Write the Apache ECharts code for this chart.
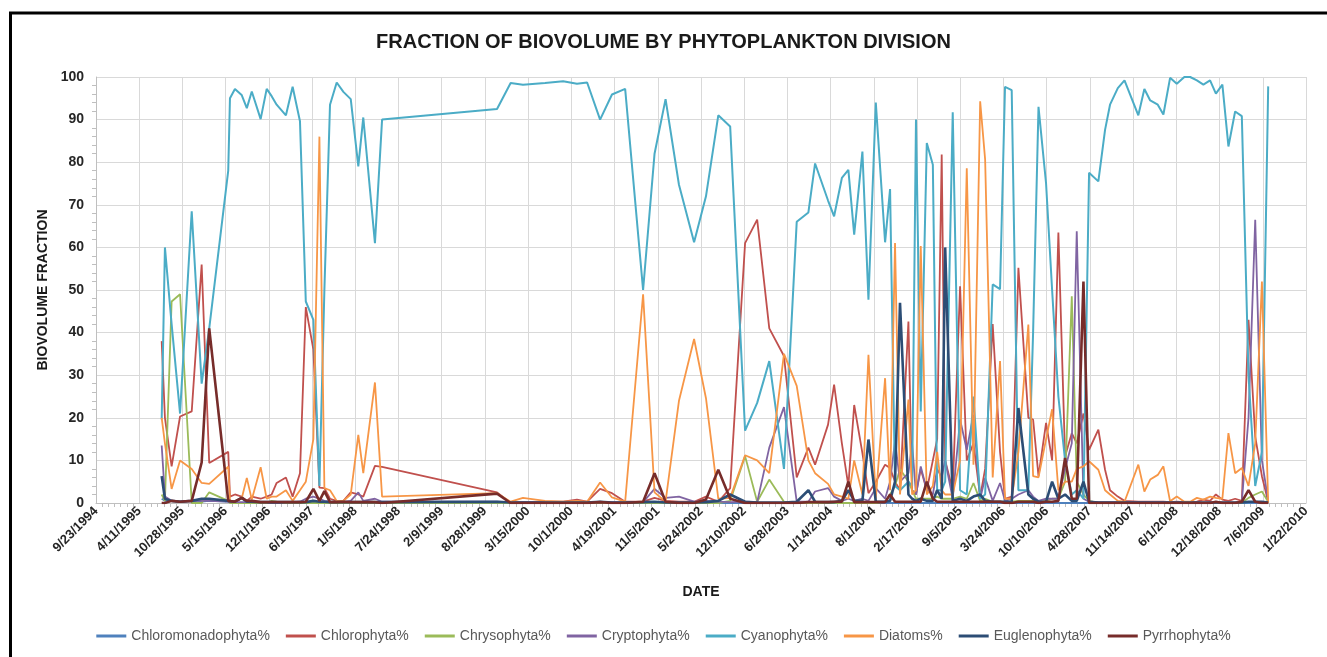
<!DOCTYPE html>
<html>
<head>
<meta charset="utf-8">
<script src="https://cdn.jsdelivr.net/npm/echarts@6/dist/echarts.min.js"></script>
<style>
html,body{margin:0;padding:0;background:#fff;}
#chart{width:1327px;height:657px;}
</style>
</head>
<body>
<div id="chart"></div>
<script>
// Sample dates as Excel date serial numbers (days since 1899-12-30)
const sampleDates = [34904,34919,34950,34989,35043,35089,35124,35212,35220,35243,
 35274,35298,35321,35362,35390,35413,35436,35479,35510,35544,
 35571,35606,35634,35657,35683,35714,35745,35779,35814,35837,
 35891,35924,36456,36519,36576,36678,36762,36826,36873,36933,
 36988,37049,37132,37185,37236,37298,37368,37423,37480,37535,
 37604,37660,37716,37784,37843,37897,37928,37988,38016,38052,
 38082,38109,38147,38175,38209,38252,38275,38298,38321,38360,
 38377,38395,38417,38445,38473,38493,38514,38530,38565,38599,
 38630,38661,38692,38715,38750,38784,38807,38838,38869,38915,
 38937,38962,38997,39025,39054,39085,39116,39139,39170,39196,
 39239,39270,39293,39329,39360,39424,39452,39479,39514,39540,
 39571,39602,39637,39664,39695,39725,39756,39783,39813,39841,
 39872,39903,39934,39965,39996,40025];

const chloromonadophyta = [1,0.5,0.5,0.3,0.5,0.3,0.5,0.3,0,0,
 0,0,0,0,0,0,0,0,0,0,
 0,0,0,0,0,0,0,0,0,0,
 0,0,0.2,0,0,0,0,0,0,0,
 0,0,0,0,0,0,0,0,0,0,
 0,0,0,0,0,0,0,0,0,0,
 0,0,0,0,0,0,0,0,0,0,
 0,0,0,0,0,0,0,0,0,0,
 0,0,0,0,0,0,0,0,0,0,
 0,0,0,0,0,0,0,0,0,0,
 0,0,0,0,0,0,0,0,0,0,
 0,0,0,0,0,0,0,0,0,0,
 0,0,0,0,0,0];

const chlorophyta = [38,20,8.6,20.3,21.5,56,9.4,12,1.5,2,
 1.5,0.5,1.5,1,1.5,2,4.7,6,1.5,7,
 46,36,3.6,3.5,1,0.5,0.5,2.5,2,1.5,
 8.7,8.5,2.5,0,0.2,0.3,0.3,0.8,0.3,3.3,
 2.3,0.3,0.3,1.2,0.5,0.3,0.3,1.5,0.3,3.5,
 61,66.5,41,34.5,6,13,9,18.4,27.8,14,
 4,23,11.7,2.3,5,9,8.2,5,3,42.6,
 3,2,8,3,10,15,81.8,10,3,50.9,
 10,14,1.5,8,42,12,1,1.5,55.2,20,
 19.6,6.3,18.8,10,63.5,11,16.4,14,21,12.5,
 17.2,7.8,3,1.5,0.5,0.3,0.3,0.3,0.3,0.3,
 0.2,0.3,0.2,0.2,0.3,0.8,0.5,2,0.8,0.5,
 1,0.5,43,15.6,6.3,0.3];

const chrysophyta = [2,0.5,47.3,49,0,0,2.5,0.5,0,0,
 0,0,0,0,0,0.5,0.3,0,0,0,
 0,0,0,0,0,0,0,0,0,0,
 0,0,0,0,0,0,0,0,0,0,
 0,0,0,0,0,0,0,0,0,0.5,
 11,0.3,5.5,0.3,0,0,0,0,0,0,
 0,0,0,0,0,0.3,2,4,8,5,
 3,1,1,1,1,1.5,1,1,1,1.5,
 1,4.7,0.5,1,0.3,0.3,0.3,0.3,0.5,0.5,
 0.5,0.3,0.5,1,1,5,48.5,5,2,0.5,
 0,0,0,0,0,0,0,0,0,0,
 0,0,0,0,0,0,0,0,0,0,
 0,0,1.2,2,2.7,0.3];

const cryptophyta = [13.5,1.5,0.5,0.3,0.5,0.5,0.5,0.3,0.2,0.2,
 0.2,0.2,0.2,0.2,0.2,0.2,0.2,0.2,0.2,0.3,
 1,1.5,1,0.5,0.3,0.2,0.2,0.5,2.5,0.5,
 1,0.3,0.3,0.2,0.2,0.2,0.2,0.2,0.2,0.2,
 0.2,0.2,0.2,3.3,1.2,1.5,0.3,0.5,0.3,0.2,
 0.3,0.2,13,22.5,0.3,0.3,2.7,3.5,1.5,0.5,
 1,0.5,1,0.5,3.5,1,5,14.5,5,7,
 14,2,8.6,3,2,8,6,10,1,19.6,
 12.5,20.7,1,5.9,0.5,4.7,0.5,1,2,3,
 1.5,0.5,1,1,1,8,14,63.8,1,0.3,
 0.2,0.2,0.2,0.2,0.2,0.2,0.2,0.2,0.2,0.2,
 0.1,0.1,0.1,0.1,0.1,0.1,0.1,0.1,0.1,0.1,
 0.1,0.3,20,66.5,10,0.5];

const cyanophyta = [19.6,60,42,21,68.5,28,41,78,95,97.2,
 95.8,92.7,96.6,90.1,97.2,95.5,93.5,91,97.7,89.6,
 47.3,43,4,50,93.5,98.7,96.5,94.8,79,90.5,
 61,90,92.5,98.6,98.2,98.6,99,98.4,98.7,90,
 95.9,97.2,50,82,94.8,74.7,61.2,72,91,88.4,
 17,23.5,33.3,8,66,68.2,79.7,71,67.3,76.3,
 78.2,63,82.5,47.7,94,61.2,73.7,4,3,5,
 4,90,21.5,84.5,79.4,3,3,5,91.7,3,
 2,25,1,2,51.3,50.2,97.7,96.9,3,3,
 40,93,75,50,25,10,2,3,1,77.5,
 75.5,87.6,93.5,97.4,99.2,91,97.2,94.5,93.5,91.2,
 99.8,98.4,100,100,99.2,98.2,99.2,96.1,98.2,83.7,
 91.9,90.8,30,4,12,97.8];

const diatoms = [20,14,3.3,10,8,4.7,4.5,8.5,0.5,0.5,
 1,5.9,0.8,8.4,1,1.5,1.5,3,0.5,3,
 5,15,86,3.5,3,0.5,0.5,2,16,7,
 28.3,1.5,2.3,0.3,1.2,0.5,0.3,0.5,0.3,4.8,
 1.3,0.3,49,2.5,0.3,24,38.5,24.6,1,1.2,
 11.2,10,7,35,27.5,10,7,4.5,2,1.5,
 1,10,2,34.8,1,29.3,3,61,2,24.3,
 2,3,60.3,2,4,12,3,2,2,10,
 78.6,9,94.3,80.6,6,33.3,1,1,12,41.9,
 6.3,6,15,22,3,5,5,8,8.6,9.8,
 7.8,3,2,0.5,0.3,9,2.7,5.5,6.6,8.6,
 0.4,1.5,0.3,0.3,1.2,0.8,1.5,1.2,1,16.4,
 7,8.2,4,14,52,0];

const euglenophyta = [6.3,1,0.5,0.3,0.5,1,1,0.5,0.3,0.3,
 1.2,0.3,0.3,0.2,0.2,0.2,0.2,0.2,0.2,0.2,
 0.2,0.5,0.3,0.3,0.2,0.2,0.2,0.2,0.2,0.2,
 0.2,0.2,0.3,0.1,0.1,0.1,0.1,0.1,0.1,0.3,
 0.1,0.1,0.2,0.3,0.1,0.1,0.1,0.2,0.5,2,
 0.3,0.1,0.1,0.1,0.3,3,0.3,0.2,0.2,0.5,
 3,0.5,0.5,14.9,0.3,0.3,0.5,5,47,2,
 1,0.5,1,0.5,0.5,3,1,60,0.5,1,
 0.5,1.5,2,0.5,0.3,0.3,0.3,0.3,22.3,2,
 1,0.3,0.3,5,1,2,0.5,0.5,5,0.3,
 0.1,0.1,0.1,0.1,0.1,0.1,0.1,0.1,0.1,0.1,
 0.1,0.1,0.1,0.1,0.1,0.1,0.1,0.1,0.1,0.1,
 0.1,0.1,0.3,0.3,0.3,0.1];

const pyrrhophyta = [0,0,0.5,0.3,0.5,9.5,41,0.5,0.2,0.3,
 1.2,0.5,0.5,0.2,0.2,0.2,0.2,0.2,0.2,0.2,
 0.3,3.3,0.5,2.8,0.2,0.2,0.3,0.2,0.2,0.2,
 0.2,0,2.2,0,0,0,0,0,0,0.2,
 0,0,0.3,7,0.3,0,0,0.8,7.8,1,
 0,0,0,0,0,0.2,0.2,0.2,0.3,0.3,
 5,0.2,0.2,0.2,0.2,0.2,2,0.3,0.3,0.3,
 0.3,0.3,0.3,5,1,0.3,0.3,0.3,0.3,0.3,
 0.3,0.3,0.3,0.3,0.3,0.3,0,0,0.3,0.3,
 0.3,0,0.3,0.3,0.5,10.6,1,1,52,0,
 0,0,0,0,0,0,0,0,0,0,
 0,0,0,0,0,0,0,0.3,0,0,
 0,0.3,3,0.3,0,0];

const seriesNames = ['Chloromonadophyta%','Chlorophyta%','Chrysophyta%','Cryptophyta%','Cyanophyta%','Diatoms%','Euglenophyta%','Pyrrhophyta%'];
const seriesValues = [chloromonadophyta, chlorophyta, chrysophyta, cryptophyta, cyanophyta, diatoms, euglenophyta, pyrrhophyta];
const seriesColors = ['#4F81BD','#C0504D','#9BBB59','#8064A2','#4BACC6','#F79646','#2C4D75','#772C2A'];
const seriesWidths = [1.8,1.8,1.8,1.8,2,1.8,2.6,2.6];

// x axis: first tick 9/23/1994 (serial 34600), step 200 days, last 1/22/2010 (40200)
const xMin = 34600, xMax = 40200, xStep = 200;

function serialToLabel(v){
  const d = new Date(Date.UTC(1899,11,30) + Math.round(v)*86400000);
  return (d.getUTCMonth()+1) + '/' + d.getUTCDate() + '/' + d.getUTCFullYear();
}

const FONT = "'Liberation Sans', Arial, sans-serif";
const chart = echarts.init(document.getElementById('chart'), null, {renderer:'canvas'});

chart.setOption({
  animation: false,
  backgroundColor: '#ffffff',
  textStyle: {fontFamily: FONT},
  title: {
    text: 'FRACTION OF BIOVOLUME BY PHYTOPLANKTON DIVISION',
    left: 'center', top: 32, padding: 0,
    textStyle: {fontFamily: FONT, fontSize: 20, fontWeight: 'bold', color: '#1a1a1a'}
  },
  graphic: [
    {type:'line', shape:{x1:9, y1:13, x2:1327, y2:13}, style:{stroke:'#000', lineWidth:3}},
    {type:'line', shape:{x1:10.5, y1:12, x2:10.5, y2:660}, style:{stroke:'#000', lineWidth:3}}
  ],
  legend: {
    data: seriesNames,
    left: 'center', top: 624,
    icon: 'rect',
    itemWidth: 30, itemHeight: 3, itemGap: 16,
    textStyle: {fontFamily: FONT, fontSize: 14, color: '#595959'}
  },
  grid: {left: 96, right: 21, top: 77, bottom: 154, containLabel: false},
  xAxis: {
    type: 'value', min: xMin, max: xMax, interval: xStep,
    name: 'DATE', nameLocation: 'middle', nameGap: 82,
    nameTextStyle: {fontFamily: FONT, fontSize: 14, fontWeight: 'bold', color: '#1a1a1a'},
    axisLine: {show: true, lineStyle: {color: '#bfbfbf', width: 1}},
    axisTick: {show: false},
    minorTick: {show: true, splitNumber: 7, length: 4, lineStyle: {color: '#bfbfbf'}},
    splitLine: {show: true, lineStyle: {color: '#d9d9d9', width: 1}},
    axisLabel: {
      rotate: 45, margin: 6, fontFamily: FONT, fontSize: 13, fontWeight: 'bold', color: '#262626',
      formatter: serialToLabel
    }
  },
  yAxis: {
    type: 'value', min: 0, max: 100, interval: 10,
    name: 'BIOVOLUME FRACTION', nameLocation: 'middle', nameGap: 46,
    nameTextStyle: {fontFamily: FONT, fontSize: 14, fontWeight: 'bold', color: '#1a1a1a'},
    axisLine: {show: true, lineStyle: {color: '#bfbfbf', width: 1}},
    axisTick: {show: false},
    minorTick: {show: true, splitNumber: 5, length: 4, lineStyle: {color: '#bfbfbf'}},
    splitLine: {show: true, lineStyle: {color: '#d9d9d9', width: 1}},
    axisLabel: {margin: 12, fontFamily: FONT, fontSize: 14, fontWeight: 'bold', color: '#262626'}
  },
  series: seriesNames.map((name, k) => ({
    name: name,
    type: 'line',
    symbol: 'none',
    color: seriesColors[k],
    lineStyle: {width: seriesWidths[k], color: seriesColors[k]},
    data: sampleDates.map((d, i) => [d, seriesValues[k][i]])
  }))
});
</script>
</body>
</html>
